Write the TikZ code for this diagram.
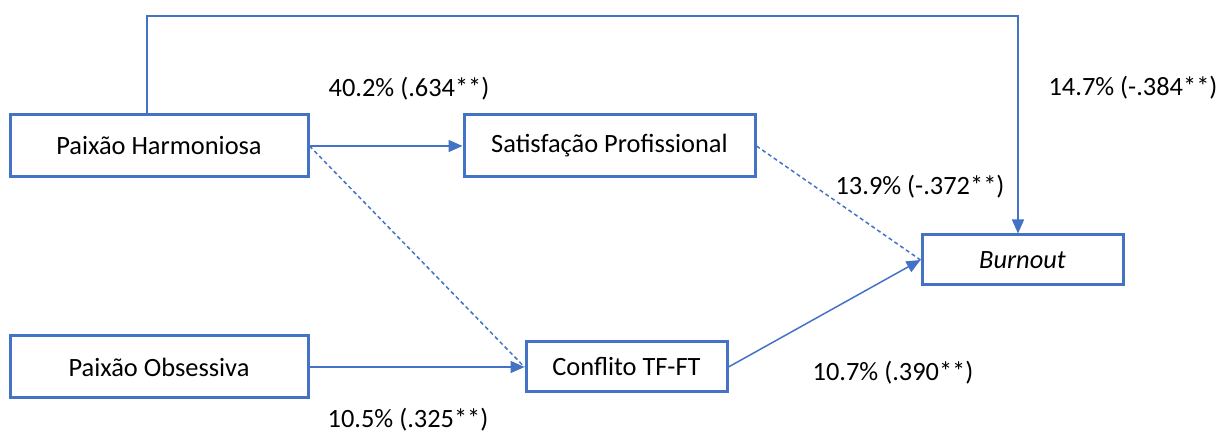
\documentclass[tikz,border=0pt]{standalone}
\usepackage{fontspec}
\setmainfont{Carlito}
\usetikzlibrary{arrows.meta}
\definecolor{officeblue}{HTML}{4472C4}
\tikzset{
  boxnode/.style={draw=officeblue, line width=1.5pt, fill=white, inner sep=0pt, font=\fontsize{13.2}{15}\selectfont},
  conn/.style={draw=officeblue, line width=0.75pt},
  arr/.style={conn, -{Triangle[length=7pt,width=6pt]}},
  dashconn/.style={conn, dash pattern=on 2pt off 1.5pt},
  lab/.style={inner sep=0pt, font=\fontsize{13.2}{15}\selectfont}
}
\begin{document}
\begin{tikzpicture}[x=0.5pt,y=-0.5pt]
\useasboundingbox (0,0) rectangle (1223,432);
\node[boxnode, minimum width=149pt, minimum height=31pt] (ph) at (159,146) {Paixão Harmoniosa};
\node[boxnode, minimum width=145.5pt, minimum height=31pt] (sp) at (609.5,146) {Satisfação Profissional};
\node[boxnode, minimum width=100.5pt, minimum height=25pt] (bo) at (1022.5,260) {\itshape Burnout};
\node[boxnode, minimum width=149pt, minimum height=31pt] (po) at (159,367) {Paixão Obsessiva};
\node[boxnode, minimum width=100.5pt, minimum height=25pt] (ct) at (626.5,367) {Conflito TF-FT};
\coordinate (corner) at (1018,16);
\draw[arr] ([xshift=-6pt]ph.north) |- (corner) -- (corner |- bo.north);
\draw[arr] (ph.east) -- (sp.west);
\draw[dashconn] (ph.east) -- (ct.west);
\draw[arr] (po.east) -- (ct.west);
\draw[dashconn] (sp.east) -- (bo.west);
\draw[arr] (ct.east) -- (bo.west);
\node[lab] (l1) at (409,89) {40.2\% (.634**)};
\node[lab] (l2) at (1133,88) {14.7\% (-.384**)};
\node[lab] (l3) at (920,187) {13.9\% (-.372**)};
\node[lab] (l4) at (893,373) {10.7\% (.390**)};
\node[lab] (l5) at (408,420) {10.5\% (.325**)};
\end{tikzpicture}
\end{document}
